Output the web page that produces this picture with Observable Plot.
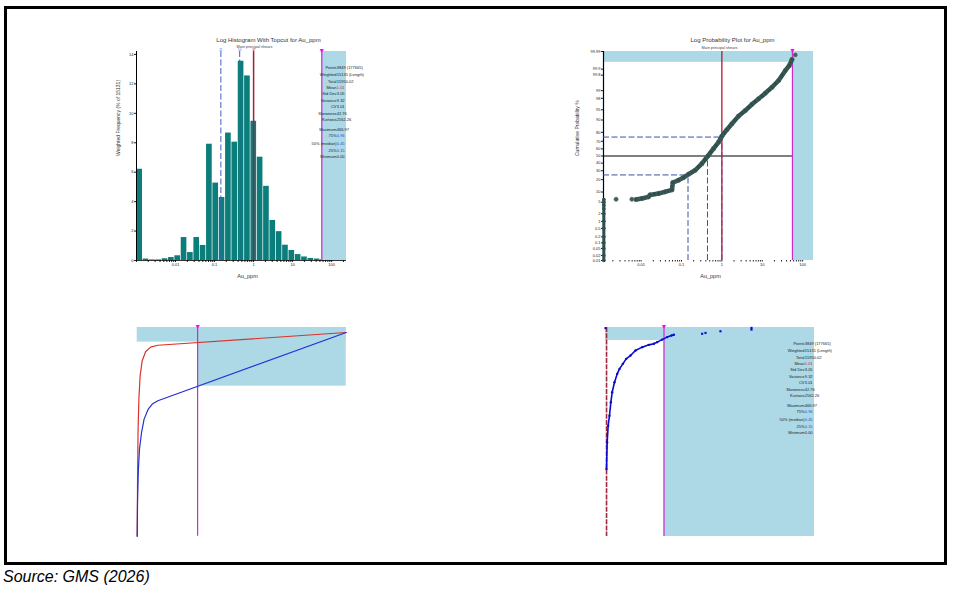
<!DOCTYPE html>
<html><head><meta charset="utf-8">
<script src="https://cdn.jsdelivr.net/npm/d3@7"></script>
<script src="https://cdn.jsdelivr.net/npm/@observablehq/plot@0.6"></script>
<style>
body{margin:0;background:#fff;font-family:"Liberation Sans",Arial,sans-serif;}
#page{position:relative;width:954px;height:590px;overflow:hidden;}
#border{position:absolute;left:4px;top:6px;width:937px;height:553px;border:3px solid #000;}
.panel{position:absolute;}
#caption{position:absolute;left:3px;top:568px;font-style:italic;font-size:16px;color:#000;}
</style></head>
<body><div id="page"><div id="border"></div>
<div id="p1" class="panel" style="left:100px;top:20px"></div>
<div id="p2" class="panel" style="left:560px;top:20px"></div>
<div id="p3" class="panel" style="left:120px;top:310px"></div>
<div id="p4" class="panel" style="left:590px;top:310px"></div>
<div id="caption">Source: GMS (2026)</div></div>
<script>
// ---------- data ----------
const topcut = 56;
const meanAu = 1.0;
const q25 = 0.145, q50 = 0.44, q75 = 1.0;

const histBinStart = [0.001,0.001453,0.002113,0.00307,0.004463,0.006486,0.009428,0.0137,0.01992,0.02895,0.04207,0.06115,0.08887,0.1292,0.1877,0.2729,0.3966,0.5764,0.8378,1.218,1.77,2.573,3.739,5.435,7.9,11.48,16.69,24.26,35.26,51.25];
const histPct = [6.2,0.1,0.04,0.04,0.12,0.2,0.32,1.56,0.54,1.56,1.02,7.9,5.26,4.28,8.66,8.04,13.54,12.54,9.46,7.02,5.04,2.72,1.96,1.04,0.68,0.4,0.24,0.14,0.1,0.06];
const histYTicks = [0,2,4,6,8,10,12,14];
const logTickValues = [0.01,0.1,1,10,100];
const logTickLabels = ["0.01","0.1","1","10","100"];
const decades = [0.001,0.01,0.1,1,10,100];
const mults = [1,2,3,4,5,6,7,8,9];

const statLabels = ["Points","Weighted","Total","Mean","Std Dev","Variance","CV","Skewness","Kurtosis","Maximum","75%","50% (median)","25%","Minimum"];
const statValues = ["3849 (177665)","15131 (Length)","15950.02","1.01","3.05","9.32","3.01","42.76","2562.26","466.97","0.96","0.45","0.15","0.00"];

const probTickPct = [0.01,0.02,0.05,0.1,0.2,0.5,1,2,5,10,20,30,40,50,60,70,80,90,95,98,99,99.8,99.9,99.99];
const probTickLabels = ["0.01","0.02","0.05","0.1","0.2","0.5","1","2","5","10","20","30","40","50","60","70","80","90","95","98","99","99.8","99.9","99.99"];
// detection-limit cluster at left edge
const probLeftPct = [0.01,0.02,0.05,0.1,0.2,0.5,1,2,3,4,5,6.1];
const probIsoAu = [0.0024,0.0059,65.8];
const probIsoPct = [6.2,6.2,99.984];
const probAu = [0.0075,0.0104,0.0152,0.0167,0.027,0.039,0.058,0.061,0.084,0.112,0.149,0.218,0.319,0.45,0.62,0.83,1.0,1.33,1.77,2.59,3.79,5.55,8.1,11.9,17.4,25.4,37.1,46.6,54.5];
const probPct = [6.1,6.5,7.3,8.3,9.1,10.1,11.4,17.2,19.4,22.1,25.8,30.6,39.3,50,60.3,69,76,82.5,87.4,92.2,94.7,96.7,97.9,98.73,99.28,99.64,99.88,99.935,99.97];
const topcutPct = 99.957;

const cumRedX = [0,0.16,0.4,0.8,1.4,2.4,4.0,6.4,9.9,100];
const cumRedY = [0,25.8,49.8,65.7,76.9,84.1,88.4,90.6,91.5,97.6];
const cumBlueX = [0,0.16,0.5,1.1,2.1,3.3,5.3,7.2,9.9,100];
const cumBlueY = [0,16.3,30.6,41.8,49.8,56.1,60.9,63.3,64.9,97.6];
const cumTopcutX = 28.9, cumBandY = 93, cumRectY = 71.9;

const brAu = [0.96,1.6,2.55,3.8,5.1,6.4,8.6,11.2,13.4,16.6,19.8,23.9,28.7,35.1,41.5,46.3,49.4,54.2,59.0,63.2,65.4];
const brPct = [32.3,45.0,53.0,57.8,64.2,69.0,73.8,77.8,80.2,82.6,85.0,86.6,89.0,90.6,91.7,92.2,93.0,94.2,95.4,96.2,96.5];
const brOutAu = [92.5,95.7,110,139.7,139.7,0];
const brOutPct = [97.0,97.4,98.2,99.0,99.8,99.7];
const brBandY = 93.8;

// ---------- helpers ----------
const LB = "#add8e6", MAG = "#c92cc9", TEAL = "#0b7d7a", FONT = "'Liberation Sans', Arial, sans-serif";
const statOffsets = [15,22,28.5,34.5,41,47.5,54,61,67,77,83,91,97.5,103.5];
const statValueColors = ["#222","#222","#222","#d8262e","#222","#222","#222","#222","#222","#222","#2050d8","#2050d8","#2050d8","#222"];
function probit(p){
  const a=[-3.969683028665376e+01,2.209460984245205e+02,-2.759285104469687e+02,1.383577518672690e+02,-3.066479806614716e+01,2.506628277459239e+00];
  const b=[-5.447609879822406e+01,1.615858368580409e+02,-1.556989798598866e+02,6.680131188771972e+01,-1.328068155288572e+01];
  const c=[-7.784894002430293e-03,-3.223964580411365e-01,-2.400758277161838e+00,-2.549732539343734e+00,4.374664141464968e+00,2.938163982698783e+00];
  const d=[7.784695709041462e-03,3.224671290700398e-01,2.445134137142996e+00,3.754408661907416e+00];
  const pl=0.02425, ph=1-pl; let q,r;
  if(p<pl){q=Math.sqrt(-2*Math.log(p));return (((((c[0]*q+c[1])*q+c[2])*q+c[3])*q+c[4])*q+c[5])/((((d[0]*q+d[1])*q+d[2])*q+d[3])*q+1);}
  if(p<=ph){q=p-0.5;r=q*q;return (((((a[0]*r+a[1])*r+a[2])*r+a[3])*r+a[4])*r+a[5])*q/(((((b[0]*r+b[1])*r+b[2])*r+b[3])*r+b[4])*r+1);}
  q=Math.sqrt(-2*Math.log(1-p));return -(((((c[0]*q+c[1])*q+c[2])*q+c[3])*q+c[4])*q+c[5])/((((d[0]*q+d[1])*q+d[2])*q+d[3])*q+1);
}
const z = pct => probit(pct/100);
const minorTicks = decades.flatMap(d => mults.map(m => d*m));
const fmtLog = d => { const i = logTickValues.indexOf(d); return i >= 0 ? logTickLabels[i] : ""; };
function statMarks(dx){
  const marks = [];
  statLabels.forEach((lab,i) => {
    marks.push(Plot.text([lab], {frameAnchor:"top-right", dx:dx, dy:statOffsets[i], textAnchor:"end", fontSize:4, fill:"#222"}));
    marks.push(Plot.text([statValues[i]], {frameAnchor:"top-right", dx:dx+0.3, dy:statOffsets[i], textAnchor:"start", fontSize:4, fill:statValueColors[i]}));
  });
  return marks;
}
const baseStyle = {fontSize:"4px", fontFamily:FONT, background:"transparent", overflow:"visible", color:"#222"};

// ---------- panel 1: log histogram ----------
const histXmin = 0.001, histXmax = 240, histYmax = 14.2;
const bins = histBinStart.map((x,i) => ({x1:x, x2: i < histBinStart.length-1 ? histBinStart[i+1] : topcut, y: histPct[i]}));
const p1 = Plot.plot({
  width:270, height:270, marginLeft:36, marginRight:24, marginTop:31, marginBottom:30,
  style: baseStyle,
  x:{type:"log", domain:[histXmin,histXmax], ticks:minorTicks.filter(t => t >= histXmin && t <= histXmax), tickFormat:fmtLog, tickSize:2, tickPadding:1, label:null},
  y:{domain:[0,histYmax], ticks:histYTicks, tickSize:2, tickPadding:1, label:null},
  marks:[
    Plot.rect([0], {x1:topcut, x2:histXmax, y1:0, y2:histYmax, fill:LB}),
    Plot.rectY(bins, {x1:"x1", x2:"x2", y:"y", fill:TEAL, insetLeft:0.35, insetRight:0.35}),
    Plot.ruleX([histXmin], {stroke:"#000", strokeWidth:1}),
    Plot.ruleY([0], {stroke:"#000", strokeWidth:0.8}),
    Plot.ruleX([q25, q50], {stroke:"#3f5fc6", strokeWidth:1, strokeDasharray:"6,2.5"}),
    Plot.ruleX([meanAu], {stroke:"#a3203c", strokeWidth:1.5}),
    Plot.ruleX([topcut], {stroke:MAG, strokeWidth:1.2}),
    Plot.text(["25","50"], {x:[q25,q50], y:histYmax, dy:-1.8, fontSize:2.8, fill:"#3f5fc6"}),
    Plot.text(["M"], {x:meanAu, y:histYmax, dy:-1.8, fontSize:2.8, fill:"#a3203c"}),
    Plot.text(["▼"], {x:topcut, y:histYmax, fontSize:7, fill:"#ff00ff", dy:-1}),
    Plot.text(["Log Histogram With Topcut for Au_ppm"], {frameAnchor:"top", dx:27, dy:-14, fontSize:6, fill:"#333"}),
    Plot.text(["Main principal shears"], {frameAnchor:"top", dx:13, dy:-6.2, fontSize:3.8, fill:"#444"}),
    Plot.text(["Au_ppm"], {frameAnchor:"bottom", dx:6, dy:17, fontSize:5.5, fill:"#333"}),
    Plot.text(["Weighted Frequency (% of 15131)"], {frameAnchor:"left", dx:-18, rotate:-90, fontSize:5, fill:"#333"}),
    ...statMarks(-10)
  ]
});
document.getElementById("p1").append(p1);

// ---------- panel 2: log probability plot ----------
const probXmin = 0.00117, probXmax = 186;
const zMin = z(0.01), zMax = z(99.99);
const zTicks = probTickPct.map(z);
const fmtProb = d => { const i = zTicks.indexOf(d); return i >= 0 ? probTickLabels[i] : ""; };
const probData = probAu.map((x,i) => ({x, y: z(probPct[i])}));
const leftData = probLeftPct.map(p => ({x: probXmin*1.02, y: z(p)}));
const isoData = probIsoAu.map((x,i) => ({x, y: z(probIsoPct[i])}));
const CURVE = "#2f4f4c";
const DASH = "#3a52a8";
const p2 = Plot.plot({
  width:270, height:270, marginLeft:43, marginRight:17, marginTop:31, marginBottom:30,
  style: baseStyle,
  x:{type:"log", domain:[probXmin,probXmax], ticks:minorTicks.filter(t => t >= probXmin && t <= probXmax), tickFormat:fmtLog, tickSize:1.5, tickPadding:1.5, label:null},
  y:{domain:[zMin,zMax], ticks:zTicks, tickFormat:fmtProb, tickSize:2, tickPadding:1, label:null},
  marks:[
    Plot.rect([0], {x1:topcut, x2:probXmax, y1:zMin, y2:zMax, fill:LB}),
    Plot.rect([0], {x1:probXmin, x2:probXmax, y1:z(topcutPct), y2:zMax, fill:LB}),
    Plot.ruleX([probXmin], {stroke:"#000", strokeWidth:1.2}),
    Plot.ruleY([z(50)], {x1:probXmin, x2:topcut, stroke:"#000", strokeWidth:1}),
    Plot.ruleX([meanAu], {stroke:"#b01c2e", strokeWidth:1.3}),
    Plot.ruleY([z(75)], {x1:probXmin, x2:q75, stroke:DASH, strokeWidth:1, strokeDasharray:"6,2.5"}),
    Plot.ruleY([z(25)], {x1:probXmin, x2:q25, stroke:DASH, strokeWidth:1, strokeDasharray:"6,2.5"}),
    Plot.ruleX([q25], {y1:zMin, y2:z(25), stroke:DASH, strokeWidth:1, strokeDasharray:"6,2.5"}),
    Plot.ruleX([q50], {y1:zMin, y2:z(50), stroke:DASH, strokeWidth:1, strokeDasharray:"6,2.5"}),
    Plot.ruleX([q75], {y1:zMin, y2:z(75), stroke:"#7a3aa0", strokeWidth:1, strokeDasharray:"6,2.5"}),
    Plot.ruleX([topcut], {stroke:MAG, strokeWidth:1.2}),
    Plot.line(leftData, {x:"x", y:"y", stroke:CURVE, strokeWidth:3}),
    Plot.line(probData, {x:"x", y:"y", stroke:CURVE, strokeWidth:4.5}),
    Plot.dot(probData, {x:"x", y:"y", r:2.3, fill:CURVE, stroke:"#5d7c78", strokeWidth:0.4}),
    Plot.dot(leftData, {x:"x", y:"y", r:1.8, fill:CURVE}),
    Plot.dot(isoData, {x:"x", y:"y", r:2.2, fill:"#4a5a58", stroke:"#7a8a88", strokeWidth:0.4}),
    Plot.text(["▼"], {x:topcut, y:zMax, fontSize:7, fill:"#ff00ff", dy:-1}),
    Plot.text(["Log Probability Plot for Au_ppm"], {frameAnchor:"top", dx:24, dy:-14, fontSize:6, fill:"#333"}),
    Plot.text(["Main principal shears"], {frameAnchor:"top", dx:11, dy:-5, fontSize:3.8, fill:"#444"}),
    Plot.text(["Au_ppm"], {frameAnchor:"bottom", dx:2, dy:17, fontSize:5.5, fill:"#333"}),
    Plot.text(["Cumulative Probability %"], {frameAnchor:"left", dx:-26, rotate:-90, fontSize:5, fill:"#333"})
  ]
});
document.getElementById("p2").append(p2);

// ---------- panel 3: cumulative curves ----------
const redData = cumRedX.map((x,i) => ({x, y: cumRedY[i]}));
const blueData = cumBlueX.map((x,i) => ({x, y: cumBlueY[i]}));
const p3 = Plot.plot({
  width:240, height:240, marginLeft:16.7, marginRight:14.3, marginTop:17, marginBottom:14.3,
  style: baseStyle,
  x:{domain:[0,100], axis:null}, y:{domain:[0,100], axis:null},
  marks:[
    Plot.rect([0], {x1:0, x2:100, y1:cumBandY, y2:100, fill:LB}),
    Plot.rect([0], {x1:cumTopcutX, x2:100, y1:cumRectY, y2:100, fill:LB}),
    Plot.ruleX([cumTopcutX], {stroke:MAG, strokeWidth:1.2}),
    Plot.line(redData, {x:"x", y:"y", stroke:"#d9342b", strokeWidth:1.2}),
    Plot.line(blueData, {x:"x", y:"y", stroke:"#2431d2", strokeWidth:1.2}),
    Plot.text(["▼"], {x:cumTopcutX, y:100, fontSize:7, fill:"#ff00ff", dy:-1})
  ]
});
document.getElementById("p3").append(p3);

// ---------- panel 4: sorted values ----------
const brData = brAu.map((x,i) => ({x, y: brPct[i]}));
const brOut = brOutAu.map((x,i) => ({x, y: brOutPct[i]}));
const p4 = Plot.plot({
  width:240, height:240, marginLeft:15, marginRight:16, marginTop:17, marginBottom:14,
  style: baseStyle,
  x:{domain:[0,200], axis:null}, y:{domain:[0,100], axis:null},
  marks:[
    Plot.rect([0], {x1:0, x2:200, y1:brBandY, y2:100, fill:LB}),
    Plot.rect([0], {x1:topcut, x2:200, y1:0, y2:100, fill:LB}),
    Plot.ruleX([meanAu], {stroke:"#9e2a3f", strokeWidth:1.6, strokeDasharray:"5,1.2"}),
    Plot.ruleX([topcut], {stroke:MAG, strokeWidth:1.2}),
    Plot.line(brData, {x:"x", y:"y", stroke:"#0a0ad0", strokeWidth:1.6}),
    Plot.dot(brData, {x:"x", y:"y", r:1.2, fill:"#0a0ad0"}),
    Plot.dot(brOut, {x:"x", y:"y", r:1.2, fill:"#0a0ad0", symbol:"square"}),
    Plot.text(["▼"], {x:topcut, y:100, fontSize:7, fill:"#ff00ff", dy:-1}),
    ...statMarks(-10)
  ]
});
document.getElementById("p4").append(p4);
</script>
</body></html>
